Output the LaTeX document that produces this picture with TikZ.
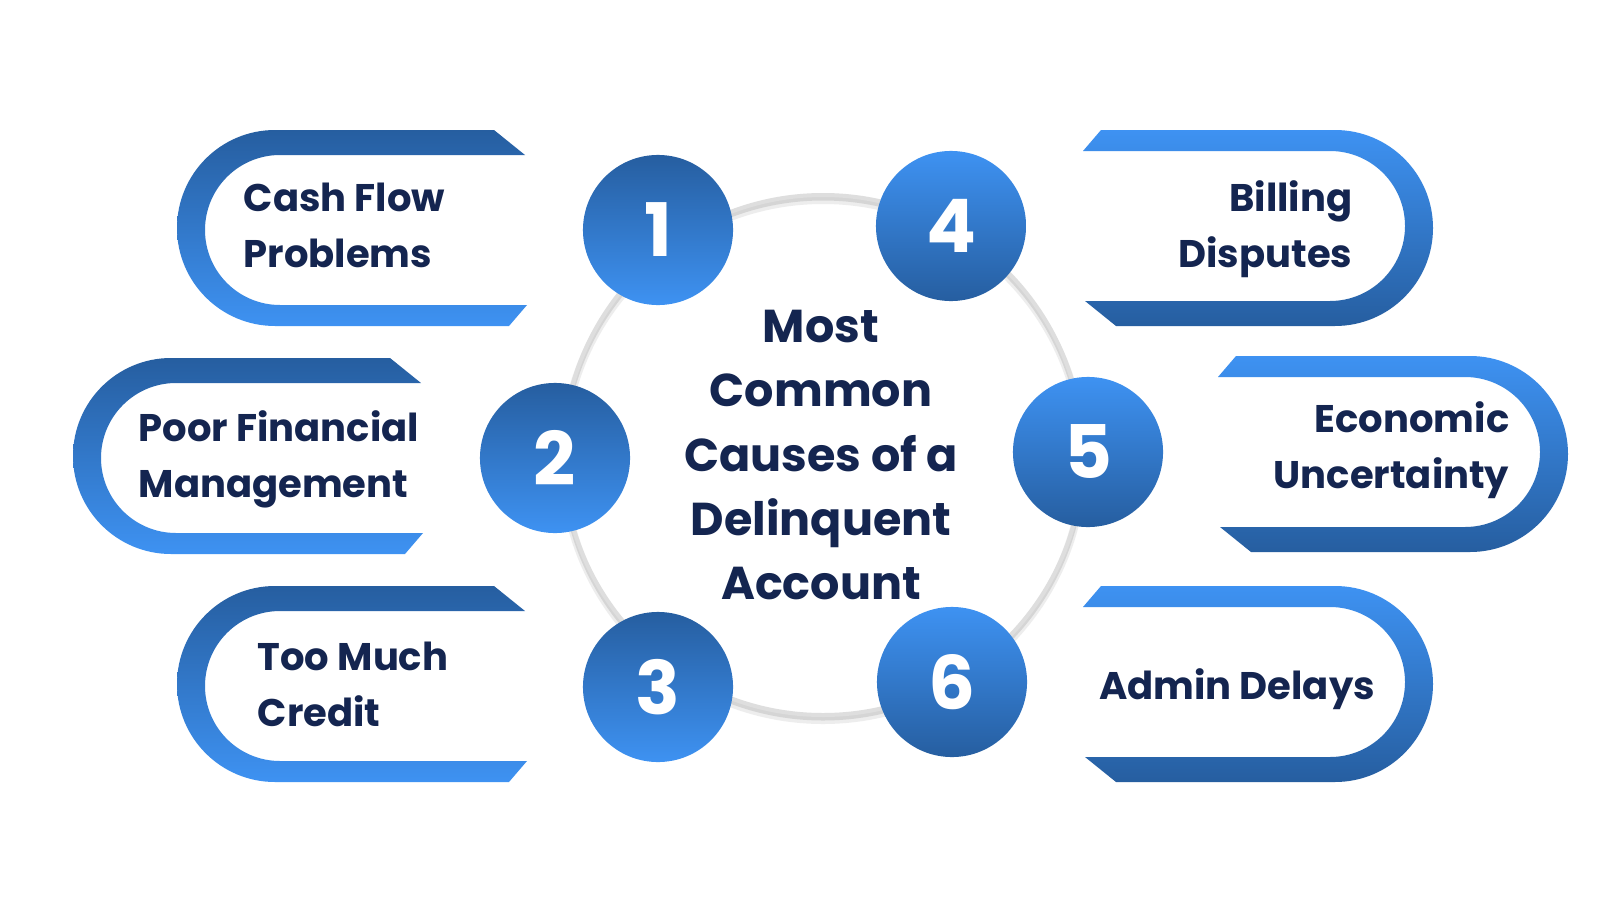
\documentclass[tikz,border=0pt]{standalone}
\usepackage{fontspec}
\setmainfont{Poppins}
\definecolor{cdark}{RGB}{38,94,160}
\definecolor{clight}{RGB}{62,146,242}
\definecolor{navy}{RGB}{20,37,80}
\definecolor{ringgray}{RGB}{222,222,222}
\definecolor{ringshadow}{RGB}{160,160,160}
\begin{document}
\begin{tikzpicture}[x=0.01cm,y=-0.01cm,
  leftgrad/.style={top color=cdark,bottom color=clight,draw=none},
  rightgrad/.style={top color=clight,bottom color=cdark,draw=none},
  numL/.style={circle,inner sep=0pt,minimum size=1.5cm,top color=cdark,bottom color=clight,draw=none,
    text=white,font=\fontsize{21pt}{21pt}\selectfont\bfseries},
  numR/.style={numL,top color=clight,bottom color=cdark},
  item/.style={inner sep=0pt,text=navy,font=\fontsize{10.95pt}{15.65pt}\selectfont\bfseries},
  title/.style={inner sep=0pt,text=navy,align=center,font=\fontsize{13.1pt}{18.2pt}\selectfont\bfseries}]
\useasboundingbox[fill=white] (0,0) rectangle (1600,900);
% left frames
\foreach \dx/\dy in {0/0,-104/228,0/456}{
  \begin{scope}[shift={(\dx,\dy)}]
  \path[leftgrad] (494,130) -- (275,130) arc[start angle=270,end angle=90,radius=98]
    -- (509,326) -- (527,305) -- (280,305) arc[start angle=90,end angle=270,radius=75]
    -- (525,155) -- cycle;
  \end{scope}}
% right frames
\foreach \dx/\dy in {0/0,135/226,0/456}{
  \begin{scope}[shift={(\dx,\dy)}]
  \path[rightgrad] (1101,130) -- (1335,130) arc[start angle=270,end angle=450,radius=98]
    -- (1116,326) -- (1085,301) -- (1330,301) arc[start angle=90,end angle=-90,radius=75]
    -- (1083,151) -- cycle;
  \end{scope}}
% ring with soft shadow
\draw[line width=0.08cm,ringshadow,opacity=0.18] (823,460) circle[radius=260];
\draw[line width=0.05cm,ringshadow,opacity=0.3] (823,458) circle[radius=260];
\draw[line width=0.04cm,ringgray] (823,455) circle[radius=260];
% number circles
\node[numL] (n1) at (658,230) {1};
\node[numL] (n2) at (555,458) {2};
\node[numL] (n3) at (658,687) {3};
\node[numR] (n4) at (951,226) {4};
\node[numR] (n5) at (1088,452) {5};
\node[numR] (n6) at (952,682) {6};
% title
\node[title,anchor=base] (title) at (821,599) {Most\\Common\\Causes of a\\Delinquent\\Account};
% item texts
\node[item,align=left,anchor=base west] (t1) at (243,267) {Cash Flow\\Problems};
\node[item,align=left,anchor=base west] (t2) at (138,497) {Poor Financial\\Management};
\node[item,align=left,anchor=base west] (t3) at (257,726) {Too Much\\Credit};
\node[item,align=right,anchor=base east] (t4) at (1353,267) {Billing\\Disputes};
\node[item,align=right,anchor=base east] (t5) at (1510,488) {Economic\\Uncertainty};
\node[item,anchor=base] (t6) at (1237,699) {Admin Delays};
\end{tikzpicture}
\end{document}
